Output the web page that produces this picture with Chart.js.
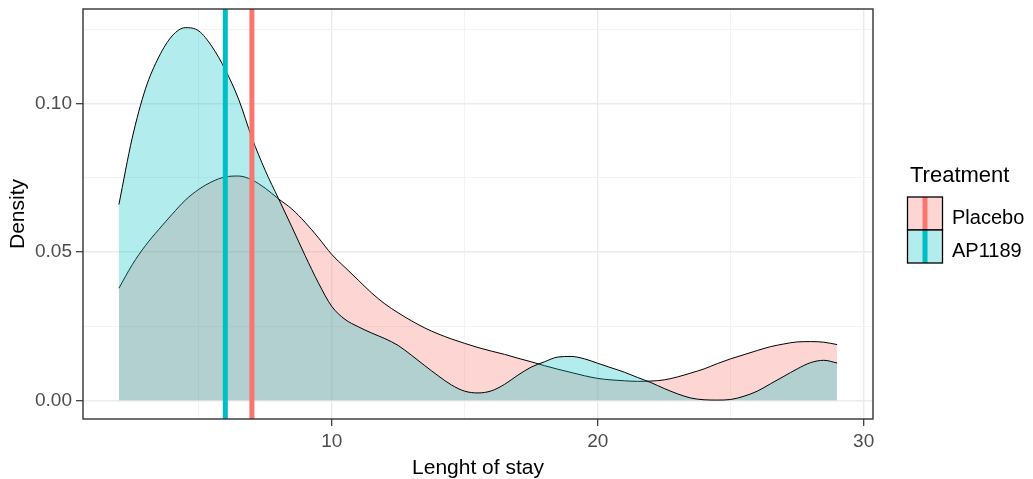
<!DOCTYPE html>
<html>
<head>
<meta charset="utf-8">
<script src="https://cdn.jsdelivr.net/npm/chart.js@4.4.1/dist/chart.umd.min.js"></script>
<style>
  html, body { margin: 0; padding: 0; background: #ffffff; }
  #wrap { width: 1033px; height: 479px; position: relative; }
</style>
</head>
<body>
<div id="wrap"><canvas id="c" width="1033" height="479"></canvas></div>
<script>
// ---- Data ----
const lengthOfStay = [2, 2.5, 3, 3.5, 4, 4.5, 5, 5.5, 6, 6.5, 7, 7.5, 8, 8.5, 9, 9.5, 10, 10.5, 11, 11.5, 12, 12.5, 13, 13.5, 14, 14.5, 15, 15.5, 16, 16.5, 17, 17.5, 18, 18.5, 19, 19.5, 20, 20.5, 21, 21.5, 22, 22.5, 23, 23.5, 24, 24.5, 25, 25.5, 26, 26.5, 27, 27.5, 28, 28.5, 29];

const placeboDensity = [0.0378, 0.0457, 0.0522, 0.0576, 0.0627, 0.0675, 0.0711, 0.0737, 0.0753, 0.0756, 0.0743, 0.0715, 0.0679, 0.0645, 0.0600, 0.0548, 0.0492, 0.0448, 0.0405, 0.0362, 0.0325, 0.0295, 0.0268, 0.0244, 0.0224, 0.0207, 0.0192, 0.0178, 0.0166, 0.0155, 0.0142, 0.0130, 0.0117, 0.0105, 0.0094, 0.0083, 0.0074, 0.0069, 0.0066, 0.0064, 0.0065, 0.0069, 0.0079, 0.0092, 0.0106, 0.0124, 0.0140, 0.0154, 0.0168, 0.0181, 0.0190, 0.0197, 0.0198, 0.0196, 0.0188];

const ap1189Density = [0.0660, 0.0884, 0.1050, 0.1157, 0.1228, 0.1256, 0.1245, 0.1192, 0.1114, 0.1015, 0.0885, 0.0775, 0.0680, 0.0585, 0.0488, 0.0396, 0.0317, 0.0273, 0.0248, 0.0227, 0.0208, 0.0185, 0.0152, 0.0117, 0.0083, 0.0052, 0.0031, 0.0025, 0.0032, 0.0054, 0.0085, 0.0112, 0.0130, 0.0146, 0.0148, 0.0140, 0.0125, 0.0110, 0.0095, 0.0077, 0.0060, 0.0040, 0.0022, 0.0008, 0.0002, 0.0001, 0.0003, 0.0014, 0.0031, 0.0056, 0.0081, 0.0106, 0.0127, 0.0135, 0.0126];

const treatments = ['Placebo', 'AP1189'];
const medianStay = [7, 6];            // vertical reference lines
const xTickValues = [5, 10, 15, 20, 25, 30];
const xTickLabels = ['', '10', '', '20', '', '30'];
const yTickValues = [0, 0.025, 0.05, 0.075, 0.10, 0.125];
const yTickLabels = ['0.00', '', '0.05', '', '0.10', ''];

// ---- Styling ----
const lineColors = ['#F8766D', '#00BFC4'];
const fillColors = ['rgba(248,118,109,0.30)', 'rgba(0,191,196,0.30)'];
const FONT = "'Liberation Sans', Arial, sans-serif";

const xMin = 2 - 0.05 * 27, xMax = 29 + 0.05 * 27;
const yMaxData = Math.max(...ap1189Density, ...placeboDensity);
const yMin = -0.05 * yMaxData, yMax = yMaxData * 1.05;

function series(vals) { return lengthOfStay.map((x, i) => ({ x: x, y: vals[i] })); }

const overlayPlugin = {
  id: 'overlay',
  afterDatasetsDraw(chart) {
    const ctx = chart.ctx, a = chart.chartArea, xs = chart.scales.x;
    ctx.save();
    ctx.beginPath(); ctx.rect(a.left, a.top, a.right - a.left, a.bottom - a.top); ctx.clip();
    medianStay.forEach((m, i) => {
      const px = xs.getPixelForValue(m);
      ctx.strokeStyle = lineColors[i];
      ctx.lineWidth = 5;
      ctx.beginPath(); ctx.moveTo(px, a.top); ctx.lineTo(px, a.bottom); ctx.stroke();
    });
    ctx.restore();
    ctx.save();
    ctx.strokeStyle = '#333333';
    ctx.lineWidth = 1.4;
    ctx.strokeRect(a.left, a.top, a.right - a.left, a.bottom - a.top);
    ctx.restore();
  },
  afterDraw(chart) {
    const ctx = chart.ctx;
    ctx.save();
    ctx.fillStyle = '#000000';
    ctx.font = '22px ' + FONT;
    ctx.textBaseline = 'alphabetic';
    ctx.textAlign = 'left';
    ctx.fillText('Treatment', 910, 182);
    const boxX = 907.5, boxW = 35, boxTops = [197, 230], boxH = 33, baselines = [223.5, 257];
    treatments.forEach((t, i) => {
      ctx.fillStyle = '#ffffff';
      ctx.fillRect(boxX, boxTops[i], boxW, boxH);
      ctx.fillStyle = fillColors[i];
      ctx.fillRect(boxX, boxTops[i], boxW, boxH);
      ctx.strokeStyle = lineColors[i];
      ctx.lineWidth = 5;
      ctx.beginPath(); ctx.moveTo(boxX + boxW / 2, boxTops[i]); ctx.lineTo(boxX + boxW / 2, boxTops[i] + boxH); ctx.stroke();
      ctx.strokeStyle = '#000000';
      ctx.lineWidth = 1.3;
      ctx.strokeRect(boxX, boxTops[i], boxW, boxH);
      ctx.fillStyle = '#000000';
      ctx.font = '20px ' + FONT;
      ctx.fillText(t, 952, baselines[i]);
    });
    ctx.restore();
  }
};

const isMajorX = v => xTickLabels[xTickValues.indexOf(v)] !== '';
const isMajorY = v => yTickLabels[yTickValues.findIndex(t => Math.abs(t - v) < 1e-9)] !== '';

new Chart(document.getElementById('c'), {
  type: 'line',
  data: {
    datasets: [
      {
        label: treatments[0], data: series(placeboDensity), order: 1,
        borderColor: '#000000', borderWidth: 1, backgroundColor: fillColors[0],
        fill: 'origin', pointRadius: 0, cubicInterpolationMode: 'monotone'
      },
      {
        label: treatments[1], data: series(ap1189Density), order: 0,
        borderColor: '#000000', borderWidth: 1, backgroundColor: fillColors[1],
        fill: 'origin', pointRadius: 0, cubicInterpolationMode: 'monotone'
      }
    ]
  },
  options: {
    responsive: false,
    devicePixelRatio: 1,
    animation: false,
    layout: { padding: { left: 0, right: 160, top: 9, bottom: 0 } },
    plugins: { legend: { display: false }, tooltip: { enabled: false } },
    scales: {
      x: {
        type: 'linear', min: xMin, max: xMax,
        afterBuildTicks: s => { s.ticks = xTickValues.map(v => ({ value: v })); },
        afterFit: s => { s.height = 60; s.paddingLeft = 0; s.paddingRight = 0; },
        ticks: {
          autoSkip: false, maxRotation: 0, padding: 4, color: '#4D4D4D',
          font: { family: FONT, size: 19 },
          callback: v => { const i = xTickValues.indexOf(v); return i >= 0 ? xTickLabels[i] : ''; }
        },
        grid: {
          color: c => isMajorX(c.tick.value) ? '#EBEBEB' : '#F2F2F2',
          lineWidth: c => isMajorX(c.tick.value) ? 1.4 : 0.9,
          tickColor: c => isMajorX(c.tick.value) ? '#333333' : 'rgba(0,0,0,0)',
          tickLength: 7, tickWidth: 1.2
        },
        border: { display: false },
        title: { display: true, text: 'Lenght of stay', color: '#000000', font: { family: FONT, size: 21, lineHeight: 1.0 }, padding: { top: 0, bottom: 0 } }
      },
      y: {
        type: 'linear', min: yMin, max: yMax,
        afterBuildTicks: s => { s.ticks = yTickValues.map(v => ({ value: v })); },
        afterFit: s => { s.width = 83; s.paddingTop = 0; s.paddingBottom = 0; },
        ticks: {
          autoSkip: false, padding: 4, color: '#4D4D4D',
          font: { family: FONT, size: 19 },
          callback: v => { const i = yTickValues.findIndex(t => Math.abs(t - v) < 1e-9); return i >= 0 ? yTickLabels[i] : ''; }
        },
        grid: {
          color: c => isMajorY(c.tick.value) ? '#EBEBEB' : '#F2F2F2',
          lineWidth: c => isMajorY(c.tick.value) ? 1.4 : 0.9,
          tickColor: c => isMajorY(c.tick.value) ? '#333333' : 'rgba(0,0,0,0)',
          tickLength: 7, tickWidth: 1.2
        },
        border: { display: false },
        title: { display: true, text: 'Density', color: '#000000', font: { family: FONT, size: 21, lineHeight: 1.2 }, padding: { top: 6, bottom: 0 } }
      }
    }
  },
  plugins: [overlayPlugin]
});
</script>
</body>
</html>
